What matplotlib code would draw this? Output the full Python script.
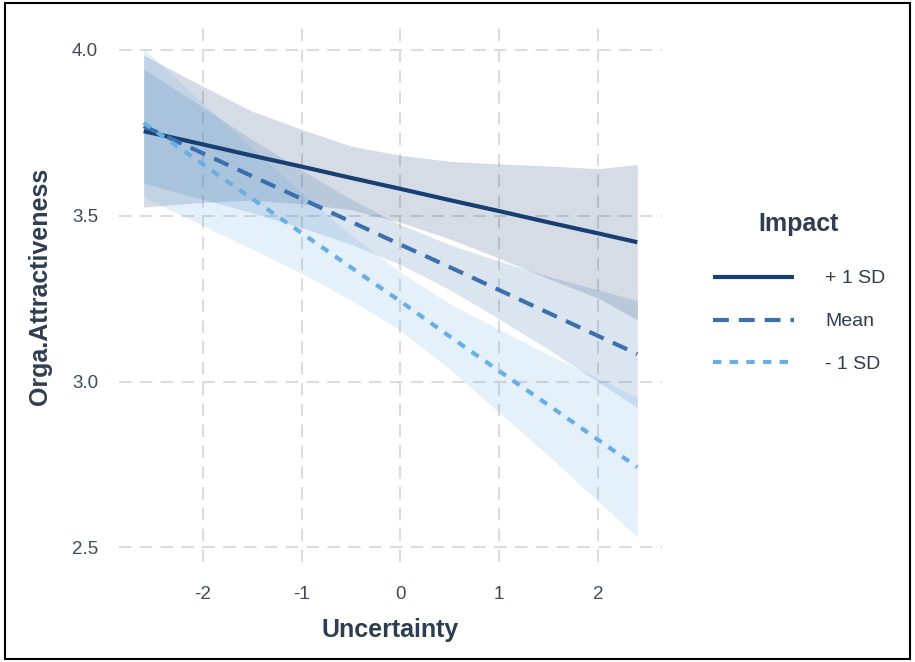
import matplotlib
matplotlib.use("Agg")
import matplotlib.pyplot as plt
from matplotlib.patches import Rectangle

plt.rcParams['font.family'] = ['Liberation Sans', 'DejaVu Sans']

# ---- data ----
x_pts = [-2.6, -2.0, -1.5, -1.0, -0.5, 0.0, 0.5, 1.0, 1.5, 2.0, 2.4]

plus_fit = [3.755, 3.715, 3.681, 3.648, 3.614, 3.581, 3.547, 3.514, 3.480, 3.447, 3.420]
plus_hi = [3.984, 3.890, 3.815, 3.760, 3.710, 3.682, 3.664, 3.656, 3.650, 3.642, 3.654]
plus_lo = [3.526, 3.540, 3.547, 3.536, 3.518, 3.480, 3.430, 3.372, 3.310, 3.252, 3.186]

mean_fit = [3.770, 3.688, 3.619, 3.551, 3.482, 3.413, 3.345, 3.276, 3.207, 3.138, 3.083]
mean_hi = [3.942, 3.827, 3.729, 3.638, 3.550, 3.473, 3.413, 3.363, 3.317, 3.277, 3.244]
mean_lo = [3.598, 3.549, 3.509, 3.464, 3.414, 3.353, 3.277, 3.189, 3.097, 2.999, 2.922]

minus_fit = [3.780, 3.655, 3.551, 3.448, 3.344, 3.242, 3.136, 3.032, 2.929, 2.825, 2.742]
minus_hi = [4.004, 3.840, 3.703, 3.570, 3.442, 3.330, 3.234, 3.157, 3.081, 3.010, 2.952]
minus_lo = [3.556, 3.470, 3.399, 3.326, 3.246, 3.154, 3.038, 2.907, 2.777, 2.640, 2.532]

series_labels = ["+ 1 SD", "Mean", "- 1 SD"]
x_ticks = [-2, -1, 0, 1, 2]
y_ticks = [2.5, 3.0, 3.5, 4.0]

# ---- styling ----
colors = ["#173f73", "#3b6fae", "#6aaee6"]
dashes = [None, (3.8, 2.4), (2.0, 2.0)]
text_col = "#2e3e50"
tick_col = "#3d4b5c"

fig = plt.figure(figsize=(9.15, 6.62), dpi=100)
ax = fig.add_axes([119/915, 1-562/662, (662-119)/915, (562-22)/662])

fits = [plus_fit, mean_fit, minus_fit]
his = [plus_hi, mean_hi, minus_hi]
los = [plus_lo, mean_lo, minus_lo]

for c, hi, lo in zip(colors, his, los):
    ax.fill_between(x_pts, lo, hi, color=c, alpha=0.18, linewidth=0, zorder=2)

handles = []
for c, f, d, lab in zip(colors, fits, dashes, series_labels):
    ln, = ax.plot(x_pts, f, color=c, lw=3, label=lab, zorder=3,
                  solid_capstyle='butt', dash_capstyle='butt')
    if d is not None:
        ln.set_dashes(d)
    handles.append(ln)

ax.set_xlim(-2.85, 2.65)
ax.set_ylim(2.456, 4.084)
ax.set_xticks(x_ticks)
ax.set_xticklabels([str(v) for v in x_ticks])
ax.set_yticks(y_ticks)
ax.set_yticklabels([f"{v:.1f}" for v in y_ticks])

ax.grid(True, color="#dcdcdc", lw=1.5, linestyle=(0, (6, 4)), zorder=0)
ax.set_axisbelow(True)
for s in ax.spines.values():
    s.set_visible(False)
ax.tick_params(axis='both', length=0, labelsize=13.5, labelcolor=tick_col)
ax.tick_params(axis='x', pad=17)
ax.tick_params(axis='y', pad=15)

ax.set_xlabel("Uncertainty", fontsize=18, fontweight='bold', color=text_col, va='center')
ax.xaxis.set_label_coords(0.5, -0.126)
ax.set_ylabel("Orga.Attractiveness", fontsize=18, fontweight='bold', color=text_col, va='center')
ax.yaxis.set_label_coords(-0.145, 0.51)

leg = fig.legend(handles=handles, labels=series_labels, loc='upper left',
                 bbox_to_anchor=(695/915, 1-195/662), frameon=False,
                 fontsize=14, handlelength=4.2, handletextpad=1.6,
                 labelspacing=1.3, title="Impact",
                 title_fontproperties={'size': 18, 'weight': 'bold'})
leg.get_title().set_color(text_col)
leg._legend_box.sep = 24
for t in leg.get_texts():
    t.set_color(text_col)

fig.patches.append(Rectangle((0.005, 0.004), 0.99, 0.991, transform=fig.transFigure,
                             fill=False, edgecolor='black', lw=1.5))

fig.savefig("out.png", dpi=100)
